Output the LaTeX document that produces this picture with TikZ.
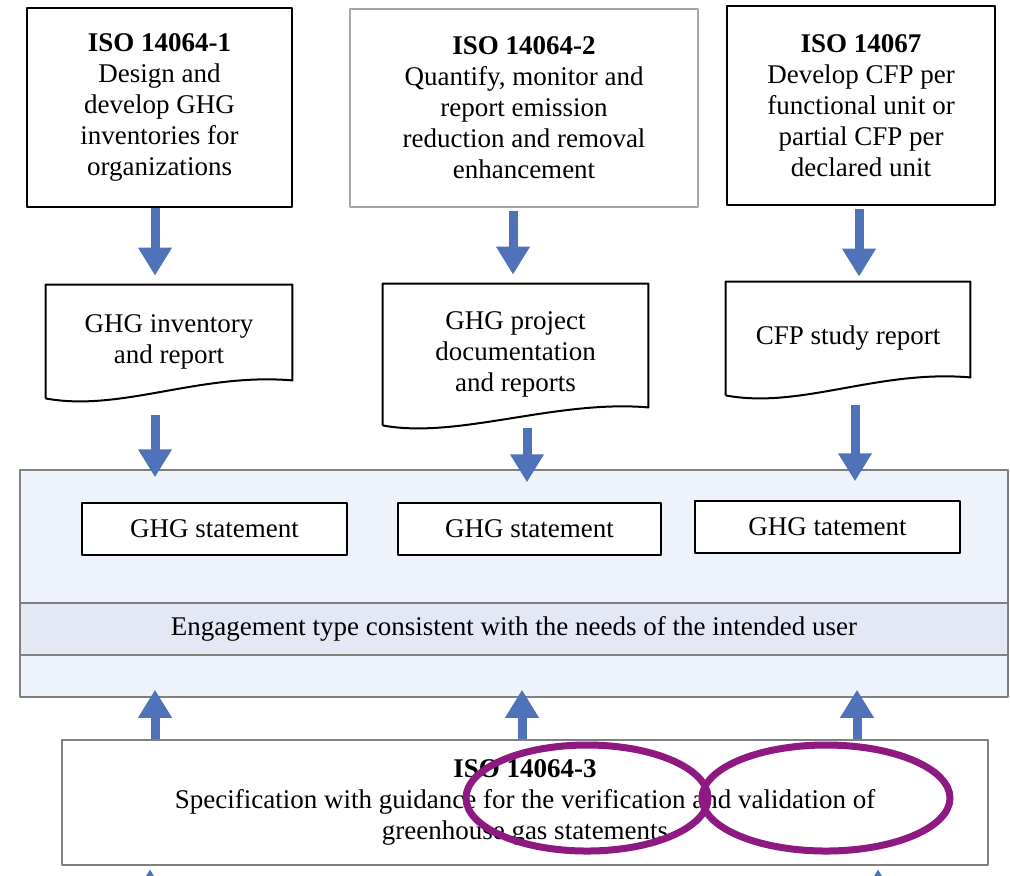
\documentclass[tikz,border=0pt]{standalone}
\usepackage{fontspec}
\setmainfont{Liberation Serif}
\usetikzlibrary{arrows.meta}
\definecolor{flowblue}{RGB}{79,114,185}
\definecolor{ringpurple}{RGB}{142,25,128}
\definecolor{panelfill}{RGB}{238,242,251}
\definecolor{bandfill}{RGB}{227,232,244}
\definecolor{framegray}{RGB}{128,128,128}
% outline of a document node with a wavy bottom edge
\newcommand{\docwave}[1]{%
  \draw[line width=1pt] (#1.south west) -- (#1.north west) -- (#1.north east) -- ([yshift=9pt]#1.south east)
    .. controls ([xshift=-46.5pt,yshift=13pt]#1.south east) and ([xshift=37.5pt,yshift=-7pt]#1.south west) .. (#1.south west);}
\begin{document}
\begin{tikzpicture}[x=0.5pt,y=-0.5pt,line join=round,
    every node/.style={font=\fontsize{13.5}{15.5}\selectfont,align=center,inner sep=0pt},
    isobox/.style={draw=black,line width=1.25pt,fill=white},
    docnode/.style={draw=none},
    stmtbox/.style={draw=black,line width=1pt,fill=white,minimum width=132.5pt,minimum height=26pt},
    flow/.style={draw=flowblue,line width=4.5pt,-{Triangle[width=16pt,length=14pt]}},
    ring/.style={draw=ringpurple,line width=3.5pt}]
  \useasboundingbox (0,0) rectangle (1010,875);
  % standards on top
  \node[isobox,minimum width=132.5pt,minimum height=99.5pt] (iso1) at (159.5,107.5)
    {\textbf{ISO 14064-1}\\Design and\\develop GHG\\inventories for\\organizations};
  \node[isobox,draw=framegray!70,line width=1pt,minimum width=174pt,minimum height=99pt] (iso2) at (524,108)
    {\textbf{ISO 14064-2}\\Quantify, monitor and\\report emission\\reduction and removal\\enhancement};
  \node[isobox,minimum width=134pt,minimum height=99.5pt] (iso3) at (861,105.5)
    {\textbf{ISO 14067}\\Develop CFP per\\functional unit or\\partial CFP per\\declared unit};
  % documents
  \node[docnode,minimum width=123pt,minimum height=56.5pt] (doc1) at (169,341.5) {GHG inventory\\and report};
  \node[docnode,minimum width=132.5pt,minimum height=70.5pt] (doc2) at (515.5,354.5) {GHG project\\documentation\\and reports};
  \node[docnode,minimum width=122pt,minimum height=56.5pt] (doc3) at (848,338.5) {CFP study report};
  \docwave{doc1}
  \docwave{doc2}
  \docwave{doc3}
  % panel with the statements
  \node[draw=framegray,line width=0.75pt,fill=panelfill,minimum width=494pt,minimum height=113.5pt] (panel) at (514,583.5) {};
  \node[draw=framegray,line width=0.75pt,fill=bandfill,minimum width=494pt,minimum height=26pt] (band) at (514,629)
    {Engagement type consistent with the needs of the intended user};
  \node[stmtbox] (stmt1) at (214.5,529) {GHG statement};
  \node[stmtbox,minimum width=131.5pt] (stmt2) at (529.5,529) {GHG statement};
  \node[stmtbox] (stmt3) at (827.5,527) {GHG tatement};
  % verification standard
  \node[draw=framegray,line width=1.25pt,fill=white,minimum width=463pt,minimum height=62.5pt] (verif) at (525,802.5)
    {\textbf{ISO 14064-3}\\Specification with guidance for the verification and validation of\\greenhouse gas statements};
  \coordinate (in1) at (150,940);
  \coordinate (in2) at (878,940);
  % arrows
  \draw[flow,shorten >=4.5pt] ([xshift=-2.25pt]iso1.south) -- ([xshift=-7pt]doc1.north);
  \draw[flow,shorten <=1.5pt,shorten >=4.5pt] ([xshift=-5.5pt]iso2.south) -- ([xshift=-1.25pt]doc2.north);
  \draw[flow,shorten <=1.5pt,shorten >=2.5pt] ([xshift=-1pt]iso3.south) -- ([xshift=5.5pt]doc3.north);
  \draw[flow,shorten <=8.5pt,shorten >=-4pt] ([xshift=-7pt]doc1.south) -- ([xshift=-179.5pt]panel.north);
  \draw[flow,shorten <=1.5pt,shorten >=-6.5pt] ([xshift=5.75pt]doc2.south) -- ([xshift=6.5pt]panel.north);
  \draw[flow,shorten <=5pt,shorten >=-6pt] ([xshift=3.5pt]doc3.south) -- ([xshift=170.5pt]panel.north);
  \draw[flow,shorten >=-4pt] ([xshift=-185pt]verif.north) -- ([xshift=-179.5pt]panel.south);
  \draw[flow,shorten >=-4pt] ([xshift=-1.5pt]verif.north) -- ([xshift=4pt]panel.south);
  \draw[flow,shorten >=-4pt] ([xshift=166pt]verif.north) -- ([xshift=171.5pt]panel.south);
  \draw[flow,shorten >=1.5pt] (in1) -- ([xshift=-187.5pt]verif.south);
  \draw[flow,shorten >=1.5pt] (in2) -- ([xshift=176.5pt]verif.south);
  % highlight rings
  \draw[ring] (587,798) ellipse [x radius=60.5pt,y radius=26.5pt];
  \draw[ring] (826,798) ellipse [x radius=62pt,y radius=26.5pt];
\end{tikzpicture}
\end{document}
